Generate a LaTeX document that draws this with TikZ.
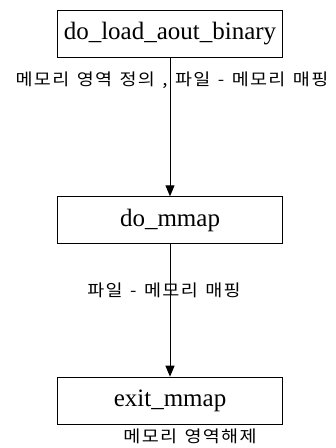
\documentclass[tikz,border=0pt]{standalone}
\usepackage{fontspec}
\setmainfont{Liberation Serif}
\newfontfamily\krfont[FakeStretch=1.12,LetterSpace=8]{Noto Sans CJK KR}
\newcommand\krsize{\krfont\fontsize{16.5}{18}\selectfont\spaceskip=7.5pt\relax}
\usetikzlibrary{arrows.meta}
\tikzset{
  procbox/.style={draw=black, line width=1pt, minimum width=225.4pt, minimum height=47pt, inner sep=0pt, font=\fontsize{25}{28}\selectfont},
  krlabel/.style={inner sep=0pt, font=\krsize},
  flow/.style={line width=1pt, -{Triangle[length=11pt,width=9pt]}}
}
\begin{document}
\begin{tikzpicture}[x=1pt,y=-1pt]
\useasboundingbox (0,0) rectangle (336,448);
\node[procbox] (load) at (170,33.7) {do\_load\_aout\_binary};
\node[procbox] (mmap) at (170,220.3) {do\_mmap};
\node[procbox] (exit) at (170,400.7) {exit\_mmap};
\draw[flow] (load) -- (mmap);
\draw[flow] (mmap) -- (exit);
\node[krlabel] (l1) at (172,80) {메모리 영역 정의 , 파일 - 메모리 매핑};
\node[krlabel] (l2) at (164,290) {파일 - 메모리 매핑};
\node[krlabel] (l3) at (190,436) {메모리 영역해제};
\end{tikzpicture}
\end{document}
